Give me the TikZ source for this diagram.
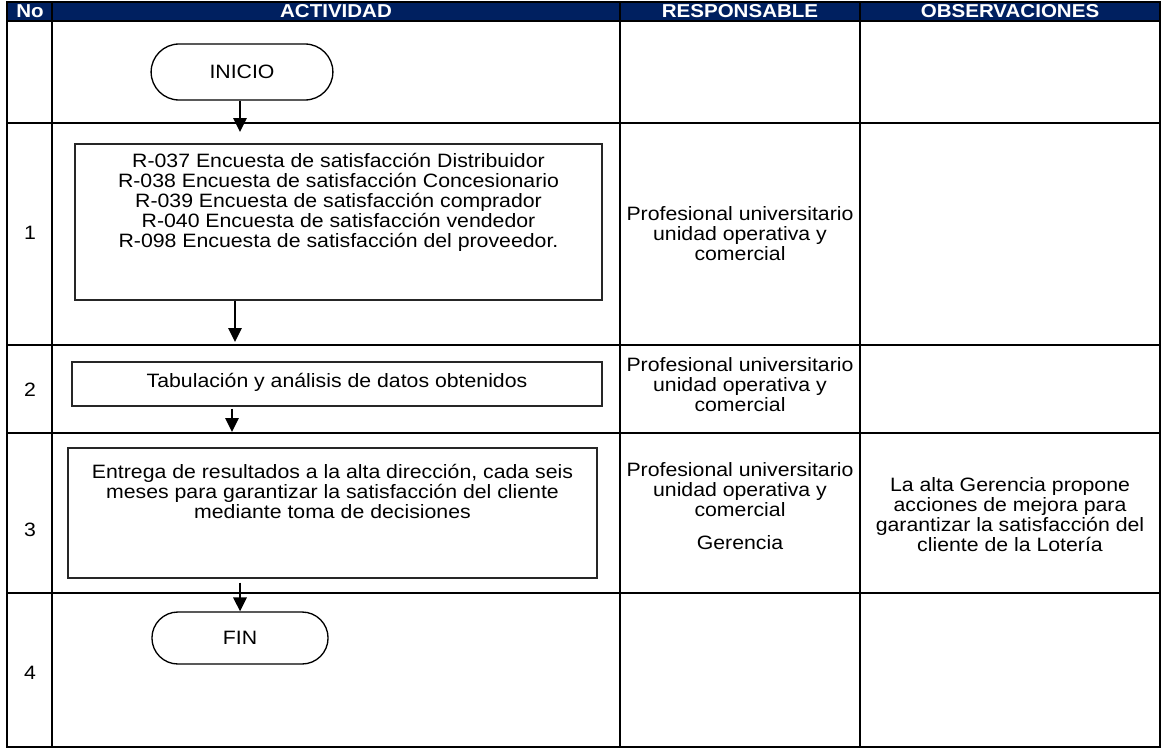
\documentclass[tikz,border=0pt]{standalone}
\usepackage{fontspec}
\setmainfont{Liberation Sans}[FakeStretch=1.10]
\usetikzlibrary{shapes.misc,arrows.meta}
\definecolor{azulenc}{RGB}{0,32,96}

\begin{document}
\begin{tikzpicture}[x=0.75pt,y=-0.75pt,
        texto/.style={font=\fontsize{14.5}{15}\selectfont,align=center,inner sep=0pt},
        titulo/.style={font=\fontsize{14}{15}\selectfont\bfseries,text=white,inner sep=0pt},
        terminal/.style={draw,rounded rectangle,line width=1pt,font=\fontsize{14.5}{15}\selectfont},
        caja/.style={draw=black!85,line width=0.9pt,inner sep=0pt},
        flecha/.style={line width=1.6pt,-{Triangle[length=10.5pt,width=10pt]}},
        linea/.style={line width=1.5pt}]
        \useasboundingbox (0,0) rectangle (1169,753);
        \fill[azulenc] (7,2) rectangle (1160,21);
        \foreach \y in {21,123,345,433,593} \draw[linea] (7,\y) -- (1160,\y);
        \foreach \x in {52,620,860} \draw[linea] (\x,2) -- (\x,747);
        \draw[linea] (7,2) rectangle (1160,747);
        \node[titulo] (hno) at (30,11.5) {No};
        \node[titulo] (hact) at (336,11.5) {ACTIVIDAD};
        \node[titulo] (hresp) at (740,11.5) {RESPONSABLE};
        \node[titulo] (hobs) at (1010,11.5) {OBSERVACIONES};
        \node[texto] (n1) at (30,233) {1};
        \node[texto] (n2) at (30,390) {2};
        \node[texto] (n3) at (30,530) {3};
        \node[texto] (n4) at (30,673) {4};
        \node[terminal,minimum width=143pt,minimum height=42pt] (ini) at (242,72) {INICIO};
        \node[caja,minimum width=395.25pt,minimum height=117pt] (act1) at (338.5,222) {};
        \node[texto] (act1txt) at (338.5,202) {R-037 Encuesta de satisfacción Distribuidor\\
            R-038 Encuesta de satisfacción Concesionario\\
            R-039 Encuesta de satisfacción comprador\\
            R-040 Encuesta de satisfacción vendedor\\
            R-098 Encuesta de satisfacción del proveedor.};
        \node[caja,minimum width=397.5pt,minimum height=33pt] (act2) at (337,384) {};
        \node[texto] (act2txt) at (337,382) {Tabulación y análisis de datos obtenidos};
        \node[caja,minimum width=396.75pt,minimum height=97.5pt] (act3) at (332.5,513) {};
        \node[texto] (act3txt) at (332.5,491) {Entrega de resultados a la alta dirección, cada seis\\
            meses para garantizar la satisfacción del cliente\\
            mediante toma de decisiones};
        \node[terminal,minimum width=138.75pt,minimum height=39pt] (fin) at (240,638) {FIN};
        \coordinate (p1) at (240,132);
        \coordinate (p2) at (235,342);
        \coordinate (p3) at (232,432);
        \draw[flecha] (ini.south -| p1) -- (p1);
        \draw[flecha] (act1.south -| p2) -- (p2);
        \draw[flecha] ([yshift=-1.5pt]act2.south -| p3) -- (p3);
        \draw[flecha] ([yshift=-3pt]act3.south -| fin.north) -- (fin.north);
        \node[texto] (r1) at (740,234) {Profesional universitario\\unidad operativa y\\comercial};
        \node[texto] (r2) at (740,385) {Profesional universitario\\unidad operativa y\\comercial};
        \node[texto] (r3) at (740,490) {Profesional universitario\\unidad operativa y\\comercial};
        \node[texto] (r3g) at (740,543) {Gerencia};
        \node[texto] (o3) at (1010,515) {La alta Gerencia propone\\acciones de mejora para\\garantizar la satisfacción del\\cliente de la Lotería};
    \end{tikzpicture}
\end{document}
